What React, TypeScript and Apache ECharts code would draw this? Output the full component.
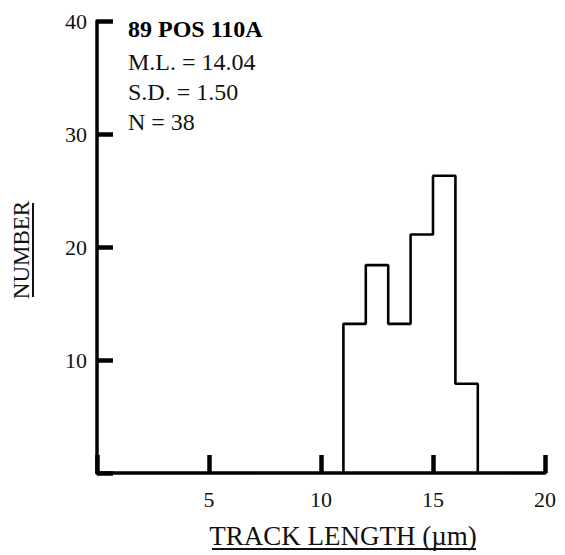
import React, { useEffect, useRef } from 'react';
import * as echarts from 'echarts';

const binEdges = [11, 12, 13, 14, 15, 16, 17];
const counts = [13.2, 18.4, 13.2, 21.1, 26.3, 7.9];
const xMin = 0, xMax = 20, xStep = 5;
const yMin = 0, yMax = 40, yStep = 10;
const sampleName = '89 POS 110A';
const statLines = ['M.L. = 14.04', 'S.D. = 1.50', 'N = 38'];
const xTitle = 'TRACK LENGTH (µm)';
const yTitle = 'NUMBER';

const FONT = '"Liberation Serif", "Times New Roman", serif';

export default function App() {
  const ref = useRef<HTMLDivElement>(null);
  useEffect(() => {
    const chart = echarts.init(ref.current!, null, { renderer: 'svg' });
    const stepData: number[][] = [
      [binEdges[0], 0],
      ...counts.map((c, i) => [binEdges[i], c]),
      [binEdges[binEdges.length - 1], 0],
    ];
    chart.setOption({
      animation: false,
      backgroundColor: '#fff',
      grid: { left: 97, right: 20, top: 21, bottom: 82, containLabel: false },
      xAxis: {
        type: 'value', min: xMin, max: xMax, interval: xStep,
        splitLine: { show: false },
        axisLine: { show: true, lineStyle: { color: '#000', width: 3.5 } },
        axisTick: { show: true, inside: true, length: 18, lineStyle: { color: '#000', width: 4.5 } },
        axisLabel: {
          color: '#111', fontFamily: FONT, fontSize: 22, margin: 15,
          formatter: (v: number) => (v === 0 ? '' : String(v)),
        },
      },
      yAxis: {
        type: 'value', min: yMin, max: yMax, interval: yStep,
        splitLine: { show: false },
        axisLine: { show: true, lineStyle: { color: '#000', width: 3.5 } },
        axisTick: { show: true, inside: true, length: 16, lineStyle: { color: '#000', width: 4.5 } },
        axisLabel: {
          color: '#111', fontFamily: FONT, fontSize: 22, margin: 10,
          formatter: (v: number) => (v === 0 ? '' : String(v)),
        },
      },
      series: [
        {
          type: 'line',
          step: 'end',
          data: stepData,
          showSymbol: false,
          lineStyle: { color: '#000', width: 2.6 },
          z: 1,
        },
      ],
      graphic: [
        {
          type: 'text', x: 128, y: 29,
          style: { text: sampleName, x: 0, y: 0, font: `bold 24px ${FONT}`, fill: '#000', align: 'left', verticalAlign: 'middle' },
        },
        ...statLines.map((t, i) => ({
          type: 'text', x: 128, y: 62 + i * 30,
          style: { text: t, x: 0, y: 0, font: `24px ${FONT}`, fill: '#111', align: 'left', verticalAlign: 'middle' },
        })),
        {
          type: 'text', x: 343, y: 536,
          style: { text: xTitle, x: 0, y: 0, font: `27px ${FONT}`, fill: '#111', align: 'center', verticalAlign: 'middle' },
        },
        {
          type: 'line', shape: { x1: 212, y1: 549, x2: 476, y2: 549 },
          style: { stroke: '#111', lineWidth: 2 },
        },
        {
          type: 'text', x: 21, y: 250, rotation: Math.PI / 2,
          style: { text: yTitle, x: 0, y: 0, font: `23px ${FONT}`, fill: '#111', align: 'center', verticalAlign: 'middle' },
        },
        {
          type: 'line', shape: { x1: 33, y1: 203, x2: 33, y2: 297 },
          style: { stroke: '#111', lineWidth: 2 },
        },
      ],
    });
    return () => chart.dispose();
  }, []);
  return (
    <div
      ref={ref}
      style={{ position: 'fixed', left: 0, top: 0, width: 565, height: 555, background: '#fff' }}
    />
  );
}
